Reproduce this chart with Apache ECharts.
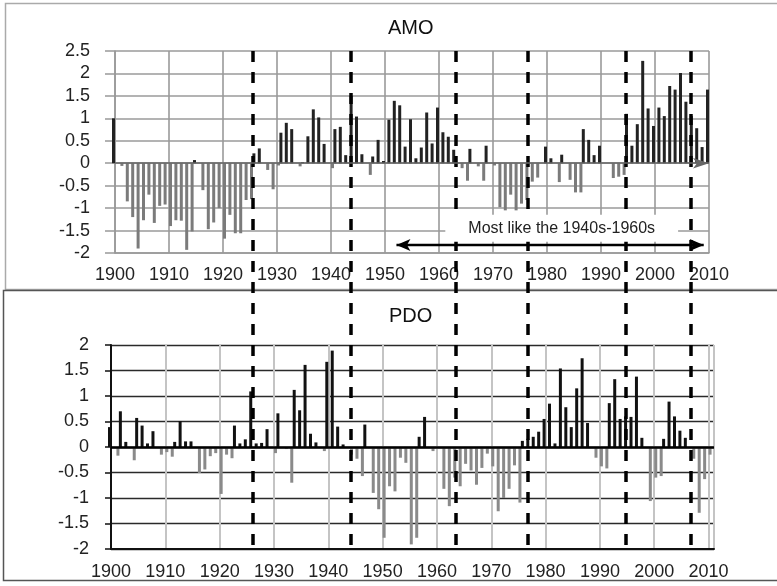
<!DOCTYPE html>
<html>
<head>
<meta charset="utf-8">
<script src="https://cdn.jsdelivr.net/npm/echarts@6/dist/echarts.min.js"></script>
<style>
  html, body { margin: 0; padding: 0; background: #fff; }
  #chart { width: 777px; height: 586px; }
</style>
</head>
<body>
<div id="chart"></div>
<script>
// years 1900..2010
const years = []
for (let y = 1900; y <= 2010; y++) years.push(y)

// AMO index, one value per year
const amo = [
  1.0, -0.06, -0.85, -1.2, -1.9, -1.27, -0.7, -1.33, -0.95, -0.92,
  -1.4, -1.27, -1.28, -1.93, -1.52, 0.07, -0.6, -1.47, -1.32, -1.0,
  -1.68, -1.15, -1.56, -1.56, -0.82, -0.8, 0.22, 0.33, -0.15, -0.58,
  -0.05, 0.68, 0.9, 0.76, -0.07, 0.02, 0.6, 1.2, 1.02, 0.43,
  -0.11, 0.76, 0.81, 0.18, 1.5, 1.04, 0.2, -0.26, 0.15, 0.52,
  0.05, 0.97, 1.39, 1.29, 0.37, 0.98, 0.11, 0.35, 1.13, 0.44,
  1.24, 0.69, 0.59, 0.3, -0.11, -0.39, 0.32, -0.07, -0.39, 0.39,
  -0.05, -0.98, -1.05, -0.7, -1.05, -0.9, -0.82, -0.41, -0.32, 0,
  0.37, 0.11, -0.42, 0.19, -0.37, -0.65, -0.65, 0.76, 0.52, 0.18,
  0.39, 0, -0.33, -0.3, -0.26, 1.1, 0.39, 0.87, 2.28, 1.22,
  0.83, 1.24, 1.05, 1.72, 1.64, 2.01, 1.37, 1.05, 0.78, 0.36, 1.64
]

// PDO index, one value per year
const pdo = [
  0.39, -0.17, 0.7, 0.1, -0.26, 0.57, 0.42, 0.07, 0.31, -0.15,
  -0.1, -0.19, 0.1, 0.51, 0.11, 0.11, -0.51, -0.44, -0.18, -0.12,
  -0.92, -0.15, -0.22, 0.42, 0.07, 0.15, 1.09, 0.07, 0.08, 0.35,
  -0.12, 0.66, -0.04, -0.7, 1.12, 0.72, 1.61, 0.26, 0.09, -0.08,
  1.67, 1.89, 0.4, 0.05, -0.15, -0.23, -0.57, 0.44, -0.9, -1.22,
  -1.78, -0.77, -0.87, -0.21, -0.31, -1.91, -1.78, 0.2, 0.59, -0.08,
  0, -0.82, -1.16, -0.6, -0.77, -0.33, -0.46, -0.74, -0.41, -0.13,
  -0.38, -1.26, -1.0, -0.82, -0.36, -1.09, 0.12, 0.16, 0.2, 0.3,
  0.55, 0.85, 0.07, 1.54, 0.78, 0.39, 1.15, 1.74, 0.47, -0.21,
  -0.38, -0.42, 0.86, 1.33, 0.55, 0.6, 0.59, 1.38, 0.18, -1.06,
  -0.6, -0.57, 0.16, 0.89, 0.6, 0.32, 0.18, -0.23, -1.29, -0.63, -0.15
]

// regime shift years (dashed lines) and the annotation
const dashYears = [1925.6, 1943.7, 1963.1, 1976.5, 1994.6, 2006.7]
const arrowYears = [1952.4, 2009.3]
const arrowLevel = -1.82
const noteText = 'Most like the 1940s-1960s'
const noteAt = [1983, -1.45]

const font = 'Liberation Sans, Arial, sans-serif'

function posPart(arr) { return years.map((y, i) => [y, arr[i] > 0 ? arr[i] : null]) }
function negPart(arr) { return years.map((y, i) => [y, arr[i] < 0 ? arr[i] : null]) }

const chart = echarts.init(document.getElementById('chart'))

let option = {
  animation: false,
  textStyle: { fontFamily: font },
  graphic: [
    { type: 'rect', silent: true, z: -10, shape: { x: 5.5, y: 3.5, width: 790, height: 286 },
      style: { fill: 'none', stroke: '#aaa', lineWidth: 1.5 } },
    { type: 'rect', silent: true, z: -10, shape: { x: 3.5, y: 290.5, width: 790, height: 290 },
      style: { fill: 'none', stroke: '#555', lineWidth: 1.5 } }
  ],
  title: [
    { text: 'AMO', left: 383, top: 13, textStyle: { fontSize: 20, fontWeight: 'normal', color: '#111', fontFamily: font } },
    { text: 'PDO', left: 384, top: 301, textStyle: { fontSize: 20, fontWeight: 'normal', color: '#111', fontFamily: font } }
  ],
  grid: [
    { left: 115, right: 68, top: 51, bottom: 333 },
    { left: 111, right: 63, top: 345, bottom: 37 },
    { left: 115, right: 68, top: 48, bottom: 41 }
  ],
  xAxis: [
    {
      gridIndex: 0, type: 'value', min: 1900, max: 2010, interval: 10,
      axisLine: { show: true, onZero: false, lineStyle: { color: '#999', width: 1.5 } },
      axisTick: { show: false },
      axisLabel: { formatter: v => String(v), color: '#222', fontSize: 18, margin: 13, fontFamily: font },
      splitLine: { show: true, lineStyle: { color: '#9a9a9a', width: 1.6 } }
    },
    {
      gridIndex: 1, type: 'value', min: 1900, max: 2011, interval: 10,
      axisLine: { show: true, onZero: false, lineStyle: { color: '#111', width: 2 } },
      axisTick: { show: false },
      axisLabel: { formatter: v => String(v), color: '#222', fontSize: 18, margin: 14, showMaxLabel: false, fontFamily: font },
      splitLine: { show: true, lineStyle: { color: '#c4c4c4', width: 2 } }
    },
    { gridIndex: 2, type: 'value', min: 1900, max: 2010, show: false }
  ],
  yAxis: [
    {
      gridIndex: 0, type: 'value', min: -2, max: 2.5, interval: 0.5,
      axisLine: { show: true, lineStyle: { color: '#999', width: 1.5 } },
      axisTick: { show: true, length: 10, lineStyle: { color: '#999', width: 1.5 } },
      axisLabel: { color: '#222', fontSize: 18, margin: 25, fontFamily: font },
      splitLine: { show: true, lineStyle: { color: '#9a9a9a', width: 1.6 } }
    },
    {
      gridIndex: 1, type: 'value', min: -2, max: 2, interval: 0.5,
      axisLine: { show: true, lineStyle: { color: '#111', width: 2 } },
      axisTick: { show: true, length: 6, lineStyle: { color: '#111', width: 1.5 } },
      axisLabel: { color: '#222', fontSize: 18, margin: 22, fontFamily: font },
      splitLine: { show: true, lineStyle: { color: '#2a2a2a', width: 1.4 } }
    },
    { gridIndex: 2, type: 'value', min: 0, max: 1, show: false }
  ],
  series: [
    {
      name: 'AMO+', type: 'bar', xAxisIndex: 0, yAxisIndex: 0,
      barWidth: 3, barGap: '0%',
      itemStyle: { color: '#222' },
      data: posPart(amo),
      markLine: {
        silent: true, z: 6,
        label: { show: false },
        data: [
          { yAxis: 0, symbol: 'none', lineStyle: { color: '#666', width: 1.6, type: 'solid' } },
          [
            { coord: [arrowYears[0], arrowLevel], symbol: 'arrow', symbolSize: [9, 14] },
            { coord: [arrowYears[1], arrowLevel], symbol: 'arrow', symbolSize: [9, 14],
              lineStyle: { color: '#000', width: 2.4, type: 'solid' } }
          ]
        ],
        lineStyle: { color: '#000', width: 2.4, type: 'solid' }
      },
      markPoint: {
        silent: true, z: 10,
        symbol: 'rect', symbolSize: 0,
        label: {
          show: true, position: 'inside', formatter: noteText,
          color: '#222', fontSize: 16, fontFamily: font,
          backgroundColor: '#fff', padding: [6, 23, 5, 23]
        },
        data: [{ coord: noteAt }]
      }
    },
    {
      name: 'AMO-', type: 'bar', xAxisIndex: 0, yAxisIndex: 0,
      barWidth: 3, barGap: '0%',
      itemStyle: { color: '#7b7b7b' },
      data: negPart(amo)
    },
    {
      name: 'PDO+', type: 'bar', xAxisIndex: 1, yAxisIndex: 1,
      barWidth: 3, barGap: '0%',
      itemStyle: { color: '#111' },
      data: posPart(pdo),
      markLine: {
        silent: true, symbol: 'none',
        label: { show: false },
        lineStyle: { color: '#000', width: 2.5, type: 'solid' },
        data: [{ yAxis: 0 }]
      }
    },
    {
      name: 'PDO-', type: 'bar', xAxisIndex: 1, yAxisIndex: 1,
      barWidth: 3, barGap: '0%',
      itemStyle: { color: '#8a8a8a' },
      data: negPart(pdo)
    },
    {
      name: 'shifts', type: 'line', xAxisIndex: 2, yAxisIndex: 2,
      symbol: 'none', lineStyle: { opacity: 0 },
      data: [[1900, 0]],
      markLine: {
        silent: true, z: 4, symbol: 'none',
        label: { show: false },
        lineStyle: { color: '#000', width: 3.5, type: [11, 10] },
        data: dashYears.map(y => ({ xAxis: y }))
      }
    }
  ]
}

chart.setOption(option)
</script>
</body>
</html>
